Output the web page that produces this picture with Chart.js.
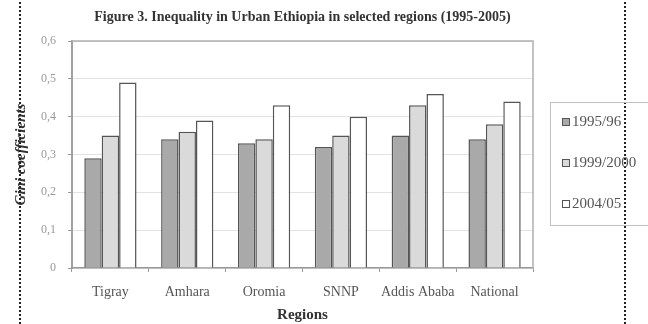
<!DOCTYPE html>
<html lang="en">

<head>
    <meta charset="UTF-8">
    <title>Inequality in Urban Ethiopia</title>
    <script src="https://cdn.jsdelivr.net/npm/chart.js"></script>
    <style>
        body { margin: 0; background: #fff; }
        #wrap { width: 648px; height: 324px; }
    </style>
</head>

<body>
    <div id="wrap"><canvas id="giniChart" width="648" height="324"></canvas></div>

    <script>
        // data
        const regions = ['Tigray', 'Amhara', 'Oromia', 'SNNP', 'Addis Ababa', 'National'];
        const gini1995 = [0.29, 0.34, 0.33, 0.32, 0.35, 0.34];
        const gini1999 = [0.35, 0.36, 0.34, 0.35, 0.43, 0.38];
        const gini2004 = [0.49, 0.39, 0.43, 0.40, 0.46, 0.44];
        const seriesLabels = ['1995/96', '1999/2000', '2004/05'];
        const seriesColors = ['#a9a9a9', '#dadada', '#ffffff'];

        const serif = '"Liberation Serif", "DejaVu Serif", serif';

        // page border dots, frame, title and boxed legend
        const decor = {
            id: 'decor',
            beforeDraw(chart) {
                const ctx = chart.ctx;
                ctx.save();
                ctx.fillStyle = '#fff';
                ctx.fillRect(0, 0, chart.width, chart.height);
                ctx.restore();
            },
            afterDraw(chart) {
                const ctx = chart.ctx;
                const a = chart.chartArea;
                ctx.save();
                // dotted page edges
                ctx.fillStyle = '#222';
                for (let y = 2; y < chart.height; y += 4) {
                    ctx.fillRect(19, y, 2, 2);
                    ctx.fillRect(624, y, 2, 2);
                }
                // frame top / right
                ctx.strokeStyle = '#b0b0b0';
                ctx.lineWidth = 1.5;
                ctx.beginPath();
                ctx.moveTo(a.left, a.top);
                ctx.lineTo(a.right, a.top);
                ctx.lineTo(a.right, a.bottom);
                ctx.stroke();
                // title
                ctx.fillStyle = '#333';
                ctx.font = 'bold 14px ' + serif;
                ctx.textAlign = 'center';
                ctx.textBaseline = 'middle';
                ctx.fillText('Figure 3. Inequality in Urban Ethiopia in selected regions (1995-2005)', (a.left + a.right) / 2, 17);
                // legend box
                ctx.strokeStyle = '#c0c0c0';
                ctx.lineWidth = 1;
                ctx.strokeRect(550.5, 102.5, 120, 123);
                ctx.font = '15px ' + serif;
                ctx.textAlign = 'left';
                chart.data.datasets.forEach((ds, i) => {
                    const y = 122 + i * 41;
                    ctx.fillStyle = ds.backgroundColor;
                    ctx.fillRect(562, y - 3.5, 7, 7);
                    ctx.strokeStyle = '#555';
                    ctx.strokeRect(562.5, y - 3.5, 7, 7);
                    ctx.fillStyle = '#555';
                    ctx.fillText(ds.label, 572, y);
                });
                ctx.restore();
            }
        };

        const ctx = document.getElementById('giniChart').getContext('2d');
        new Chart(ctx, {
            type: 'bar',
            data: {
                labels: regions,
                datasets: [gini1995, gini1999, gini2004].map((vals, i) => ({
                    label: seriesLabels[i],
                    data: vals,
                    backgroundColor: seriesColors[i],
                    borderColor: '#555',
                    borderWidth: 1.5,
                    borderSkipped: 'bottom',
                    categoryPercentage: 0.68,
                    barPercentage: 1
                }))
            },
            options: {
                responsive: false,
                animation: false,
                layout: { padding: { left: 0, right: 115, top: 41, bottom: 0 } },
                plugins: {
                    legend: { display: false },
                    title: { display: false },
                    tooltip: { enabled: false }
                },
                scales: {
                    y: {
                        min: 0,
                        max: 0.6,
                        afterFit: s => { s.width = 72; },
                        ticks: {
                            stepSize: 0.1,
                            color: '#999',
                            padding: 12,
                            font: { family: serif, size: 12 },
                            callback: v => v === 0 ? '0' : v.toFixed(1).replace('.', ',')
                        },
                        grid: { color: '#e2e2e2', tickColor: '#999', tickLength: 4 },
                        border: { color: '#a0a0a0', width: 2 },
                        title: {
                            display: true,
                            text: 'Gini coefficients',
                            color: '#333',
                            padding: { top: 12, bottom: 0 },
                            font: { family: serif, size: 15, weight: 'bold', style: 'italic' }
                        }
                    },
                    x: {
                        afterFit: s => { s.height = 56; },
                        ticks: {
                            color: '#555',
                            padding: 12,
                            maxRotation: 0,
                            minRotation: 0,
                            autoSkip: false,
                            font: { family: serif, size: 14 }
                        },
                        grid: { drawOnChartArea: false, tickColor: '#999', tickLength: 4 },
                        border: { color: '#999', width: 1.5 },
                        title: {
                            display: true,
                            text: 'Regions',
                            color: '#333',
                            padding: { top: 2, bottom: 0 },
                            font: { family: serif, size: 15, weight: 'bold' }
                        }
                    }
                }
            },
            plugins: [decor]
        });
    </script>
</body>

</html>
